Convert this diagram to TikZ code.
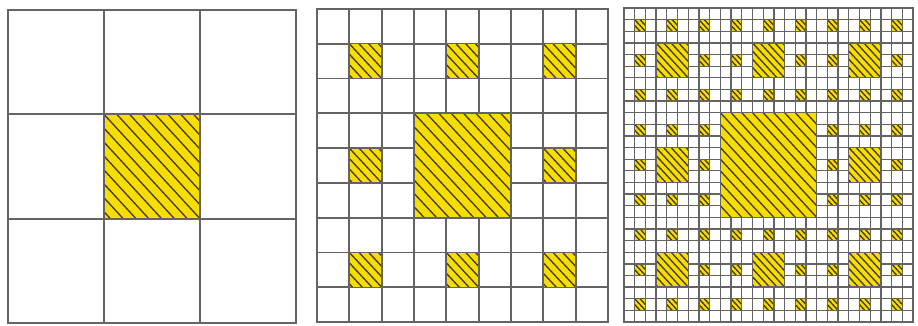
\documentclass[tikz,border=0pt]{standalone}
\usetikzlibrary{positioning}

\definecolor{carpetyellow}{RGB}{247,222,0}
\definecolor{hatchbrown}{RGB}{70,60,30}
\definecolor{gridgray}{RGB}{100,100,100}

% hatched hole: x, y, size, line spacing
\newcommand{\hatchsq}[4]{%
  \fill[holefill] (#1,#2) rectangle ++(#3,#3);
  \begin{scope}
    \clip (#1,#2) rectangle ++(#3,#3);
    \pgfmathtruncatemacro{\nh}{#3/#4+1}
    \foreach \k in {-\nh,...,\nh} {
      \draw[hatchline] ({#1+\k*#4},#2) -- ++(#3,#3);
    }
  \end{scope}
  \draw[holeline] (#1,#2) rectangle ++(#3,#3);
}

\begin{document}
\begin{tikzpicture}[
  x=1pt, y=-1pt,
  gridline/.style={draw=gridgray, line width=1.7pt, line cap=rect},
  finegrid/.style={draw=gridgray, line width=1.3pt, line cap=rect},
  holefill/.style={fill=carpetyellow},
  holeline/.style={draw=gridgray, line width=1.3pt},
  hatchline/.style={draw=hatchbrown, line width=1.35pt},
]
  \useasboundingbox (0,0) rectangle (918,325);

  % stage 1
  \begin{scope}[shift={(8,10)}, x=10.667pt, y=-11.593pt]
    \foreach \k in {0,9,...,27} {
      \draw[gridline] (\k,0) -- (\k,27);
      \draw[gridline] (0,\k) -- (27,\k);
    }
    \hatchsq{9}{9}{9}{1.2}
  \end{scope}

  % stage 2
  \begin{scope}[shift={(317,9)}, x=10.778pt, y=-11.593pt]
    \foreach \k in {0,3,...,27} {
      \draw[gridline] (\k,0) -- (\k,27);
      \draw[gridline] (0,\k) -- (27,\k);
    }
    \hatchsq{9}{9}{9}{1.15}
    \foreach \bi/\bj in {0/0,1/0,2/0,0/1,2/1,0/2,1/2,2/2} {
      \hatchsq{\bi*9+3}{\bj*9+3}{3}{0.9}
    }
  \end{scope}

  % stage 3
  \begin{scope}[shift={(624,8)}, x=10.704pt, y=-11.63pt]
    \foreach \k in {0,...,27} {
      \draw[finegrid] (\k,0) -- (\k,27);
      \draw[finegrid] (0,\k) -- (27,\k);
    }
    \hatchsq{9}{9}{9}{1.0}
    \foreach \bi/\bj in {0/0,1/0,2/0,0/1,2/1,0/2,1/2,2/2} {
      \hatchsq{\bi*9+3}{\bj*9+3}{3}{0.7}
      \foreach \si/\sj in {0/0,1/0,2/0,0/1,2/1,0/2,1/2,2/2} {
        \hatchsq{\bi*9+\si*3+1}{\bj*9+\sj*3+1}{1}{0.5}
      }
    }
  \end{scope}
\end{tikzpicture}
\end{document}
